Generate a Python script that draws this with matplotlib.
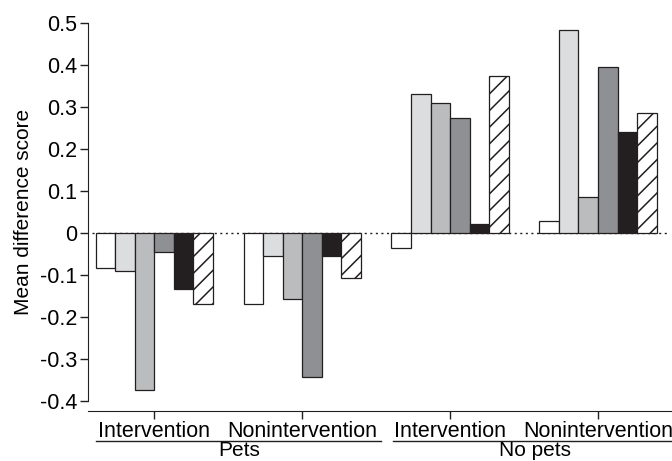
import numpy as np
import matplotlib
matplotlib.use("Agg")
import matplotlib.pyplot as plt
import matplotlib.transforms as mtransforms

plt.rcParams['font.family'] = ['Liberation Sans', 'DejaVu Sans']
plt.rcParams['hatch.linewidth'] = 1.1

# groups along the x axis
conditions = ["Intervention", "Nonintervention", "Intervention", "Nonintervention"]
pet_groups = ["Pets", "No pets"]

# six measures per group (bar order left to right)
measure1 = [-0.082, -0.169, -0.035, 0.028]
measure2 = [-0.091, -0.054, 0.331, 0.483]
measure3 = [-0.374, -0.158, 0.310, 0.087]
measure4 = [-0.044, -0.342, 0.273, 0.395]
measure5 = [-0.133, -0.054, 0.022, 0.241]
measure6 = [-0.169, -0.106, 0.374, 0.287]

series = [measure1, measure2, measure3, measure4, measure5, measure6]
fills = ["white", "#dcdddf", "#bbbcbe", "#8f9094", "#231f20", "white"]
hatches = [None, None, None, None, None, "//"]
edge = "#231f20"

fig = plt.figure(figsize=(6.72, 4.61), dpi=100)
ax = fig.add_axes([0.131, 0.130, 0.869, 0.820])

x = np.arange(len(conditions))
w = 0.132
for i, vals in enumerate(series):
    ax.bar(x + (i - 2.5) * w, vals, width=w, color=fills[i], edgecolor=edge,
           linewidth=0.9, hatch=hatches[i], zorder=2)

ax.plot([-0.42, 3.47], [0, 0], linestyle=(0, (1.5, 2.5)), color=edge, linewidth=1.0, zorder=1)

ax.set_xlim(-0.447, 3.5)
ax.set_ylim(-0.4, 0.5)
ax.set_yticks(np.arange(-0.4, 0.51, 0.1))
ax.set_yticklabels(["-0.4", "-0.3", "-0.2", "-0.1", "0", "0.1", "0.2", "0.3", "0.4", "0.5"])
ax.set_xticks(x)
ax.set_xticklabels(conditions)

for s in ["top", "right"]:
    ax.spines[s].set_visible(False)
ax.spines["bottom"].set_position(("outward", 7))
ax.spines["left"].set_color(edge)
ax.spines["bottom"].set_color(edge)
ax.tick_params(axis="both", direction="out", length=6, width=1, color=edge, labelsize=15.5, pad=2)
ax.tick_params(axis="x", pad=1)
ax.set_ylabel("Mean difference score", fontsize=15, labelpad=5)

# group lines and labels under the tick labels
trans = mtransforms.blended_transform_factory(ax.transData, fig.transFigure)
line_spans = [(-0.393, 1.536), (1.617, 3.5)]
label_pos = [0.575, 2.574]
for (x0, x1), lab, xp in zip(line_spans, pet_groups, label_pos):
    ax.plot([x0, x1], [0.0434, 0.0434], color=edge, linewidth=1.0, transform=trans, clip_on=False)
    ax.text(xp, 0.002, lab, transform=trans, ha="center", va="bottom", fontsize=15)

fig.savefig("out.png", dpi=100)
